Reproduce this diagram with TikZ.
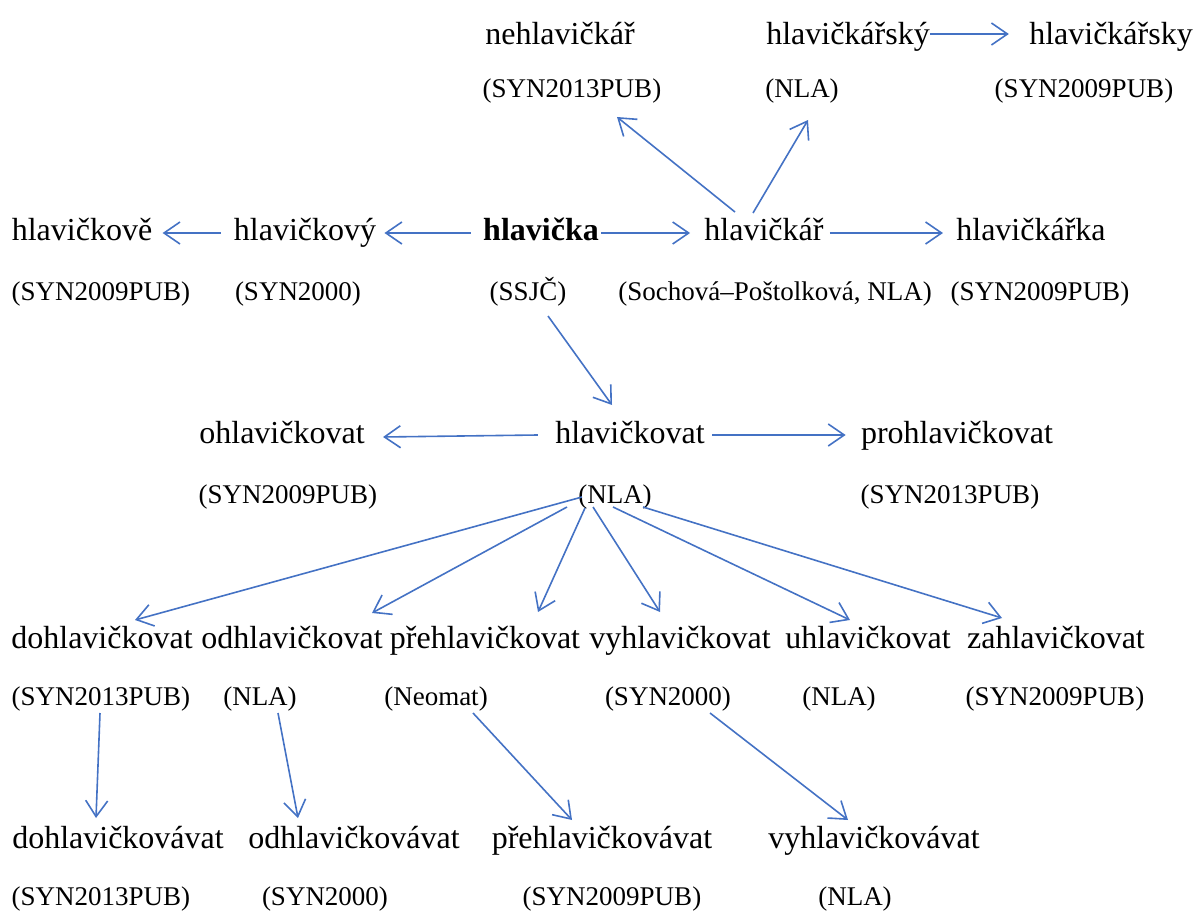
\documentclass[tikz,border=0pt]{standalone}
\usepackage{fontspec}
\setmainfont{Liberation Serif}
\usepackage{tikz}
\usetikzlibrary{calc,arrows.meta}
\definecolor{arrowblue}{RGB}{68,114,196}

\begin{document}
\begin{tikzpicture}[x=0.5pt, y=-0.5pt,
  word/.style={anchor=base, inner sep=0pt, font=\fontsize{16}{19}\selectfont},
  src/.style={anchor=base, inner sep=0pt, font=\fontsize{13.5}{16}\selectfont},
  link/.style={draw=arrowblue, line width=0.8pt, -{Straight Barb[length=8pt,width=11pt]}}]
  \useasboundingbox (0,0) rectangle (1195,915);

  % top row
  \node[word] (neh) at (560,45) {nehlavičkář};
  \node[src] (nehsrc) at (572,98) {(SYN2013PUB)};
  \node[word] (karsky) at (848,45) {hlavičkářský};
  \node[src] (karskysrc) at (802,98) {(NLA)};
  \node[word] (karsky2) at (1111,45) {hlavičkářsky};
  \node[src] (karsky2src) at (1084,98) {(SYN2009PUB)};

  % hlavicka row
  \node[word] (kove) at (82,241) {hlavičkově};
  \node[src] (kovesrc) at (101,300) {(SYN2009PUB)};
  \node[word] (kovy) at (305,241) {hlavičkový};
  \node[src] (kovysrc) at (298,300) {(SYN2000)};
  \node[word] (hlav) at (541,241) {\textbf{hlavička}};
  \node[src] (hlavsrc) at (528,300) {(SSJČ)};
  \node[word] (kar) at (764,241) {hlavičkář};
  \node[src] (karsrc) at (775,300) {(Sochová–Poštolková, NLA)};
  \node[word] (karka) at (1031,241) {hlavičkářka};
  \node[src] (karkasrc) at (1040,300) {(SYN2009PUB)};

  % hlavickovat row
  \node[word] (ohl) at (282,443) {ohlavičkovat};
  \node[src] (ohlsrc) at (288,503) {(SYN2009PUB)};
  \node[word] (kovat) at (630,443) {hlavičkovat};
  \node[src] (kovatsrc) at (615,503) {(NLA)};
  \node[word] (prohl) at (957,443) {prohlavičkovat};
  \node[src] (prohlsrc) at (950,503) {(SYN2013PUB)};

  % prefixed verbs
  \node[word] (doh) at (102,648) {dohlavičkovat};
  \node[src] (dohsrc) at (101,705) {(SYN2013PUB)};
  \node[word] (odh) at (292,648) {odhlavičkovat};
  \node[src] (odhsrc) at (260,705) {(NLA)};
  \node[word] (preh) at (485,648) {přehlavičkovat};
  \node[src] (prehsrc) at (436,705) {(Neomat)};
  \node[word] (vyh) at (680,648) {vyhlavičkovat};
  \node[src] (vyhsrc) at (668,705) {(SYN2000)};
  \node[word] (uh) at (868,648) {uhlavičkovat};
  \node[src] (uhsrc) at (839,705) {(NLA)};
  \node[word] (zah) at (1056,648) {zahlavičkovat};
  \node[src] (zahsrc) at (1055,705) {(SYN2009PUB)};

  % iteratives
  \node[word] (dohv) at (118,848) {dohlavičkovávat};
  \node[src] (dohvsrc) at (101,905) {(SYN2013PUB)};
  \node[word] (odhv) at (354,848) {odhlavičkovávat};
  \node[src] (odhvsrc) at (325,905) {(SYN2000)};
  \node[word] (prehv) at (602,848) {přehlavičkovávat};
  \node[src] (prehvsrc) at (612,905) {(SYN2009PUB)};
  \node[word] (vyhv) at (874,848) {vyhlavičkovávat};
  \node[src] (vyhvsrc) at (855,905) {(NLA)};

  % arrows, top
  \draw[link] ($(karsky.base east)+(0,-11)$) -- ($(karsky2.base west)+(-20,-11)$);
  \draw[link] ($(kar.base)+(-29,-29)$) -- ($(nehsrc.base)+(45,19)$);
  \draw[link] ($(kar.base)+(-11,-28)$) -- ($(karskysrc.base)+(6,22)$);

  % arrows, hlavicka row
  \draw[link] ($(hlav.base west)+(-12,-8)$) -- ($(kovy.base east)+(8,-8)$);
  \draw[link] ($(kovy.base west)+(-13,-8)$) -- ($(kove.base east)+(10,-8)$);
  \draw[link] ($(hlav.base east)+(2,-8)$) -- ($(kar.base west)+(-14,-8)$);
  \draw[link] ($(kar.base east)+(6,-8)$) -- ($(karka.base west)+(-13,-8)$);
  \draw[link] ($(hlavsrc.base)+(20,16)$) -- ($(kovat.base)+(-18,-38)$);

  % arrows, hlavickovat row
  \draw[link] ($(kovat.base west)+(-17,-8)$) -- ($(ohl.base east)+(18,-6)$);
  \draw[link] ($(kovat.base east)+(7,-8)$) -- ($(prohl.base west)+(-15,-8)$);
  \draw[link] ($(kovatsrc.base)+(-33,-6)$) -- ($(doh.base)+(33,-28)$);
  \draw[link] ($(kovatsrc.base)+(-48,4)$) -- ($(odh.base)+(80,-35)$);
  \draw[link] ($(kovatsrc.base)+(-30,5)$) -- ($(preh.base)+(53,-36)$);
  \draw[link] ($(kovatsrc.base)+(-22,4)$) -- ($(vyh.base)+(-20,-36)$);
  \draw[link] ($(kovatsrc.base)+(-2,4)$) -- ($(uh.base)+(-18,-28)$);
  \draw[link] ($(kovatsrc.base)+(28,4)$) -- ($(zah.base)+(-54,-30)$);

  % arrows, iteratives
  \draw[link] ($(dohsrc.base)+(-1,8)$) -- ($(dohv.base)+(-22,-30)$);
  \draw[link] ($(odhsrc.base)+(18,8)$) -- ($(odhv.base)+(-56,-30)$);
  \draw[link] ($(prehsrc.base)+(37,8)$) -- ($(prehv.base)+(-30,-28)$);
  \draw[link] ($(vyhsrc.base)+(42,8)$) -- ($(vyhv.base)+(-26,-28)$);
\end{tikzpicture}
\end{document}
